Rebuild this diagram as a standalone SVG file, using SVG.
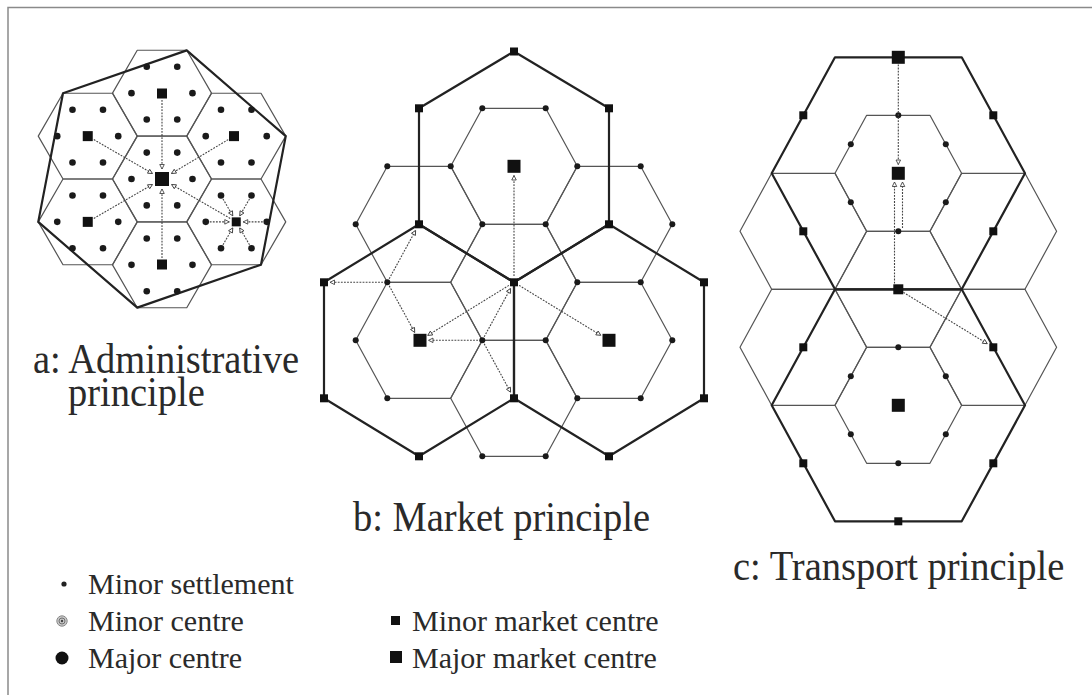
<svg xmlns="http://www.w3.org/2000/svg" xmlns:xlink="http://www.w3.org/1999/xlink" width="1092" height="695" viewBox="0 0 1092 695">
<style>
.thin{fill:none;stroke:#555;stroke-width:1.2;stroke-linejoin:round}
.heavy{fill:none;stroke:#222;stroke-width:2.2;stroke-linejoin:round}
.dot{fill:#1a1a1a}
.sq{fill:#111}
.arr{fill:none;stroke:#444;stroke-width:1.1;stroke-dasharray:1.8 1.3;marker-end:url(#ah)}
.title{font-family:"Liberation Serif","Times New Roman",serif;font-size:38.5px;fill:#2a2a2a}
.leg{font-family:"Liberation Serif","Times New Roman",serif;font-size:30px;fill:#2a2a2a}
</style>
<defs>
<marker id="ah" viewBox="0 0 8 8" refX="7" refY="4" markerWidth="6" markerHeight="6" orient="auto" markerUnits="userSpaceOnUse">
<path d="M1,1 L7,4 L1,7 z" fill="#fff" stroke="#333" stroke-width="1.1" stroke-dasharray="none"/>
</marker>
<polygon id="hexA" points="-49.5,0 -24.75,-42.87 24.75,-42.87 49.5,0 24.75,42.87 -24.75,42.87"/>
<polygon id="hexB" points="-63.3,0 -31.65,-58 31.65,-58 63.3,0 31.65,58 -31.65,58"/>
<g id="dotsA">
<circle cx="30.5" cy="0" r="3.3"/><circle cx="-30.5" cy="0" r="3.3"/>
<circle cx="15.25" cy="-26.41" r="3.3"/><circle cx="-15.25" cy="-26.41" r="3.3"/>
<circle cx="15.25" cy="26.41" r="3.3"/><circle cx="-15.25" cy="26.41" r="3.3"/>
</g>
<g id="midC">
<circle cx="0" cy="-58" r="3"/><circle cx="0" cy="58" r="3"/>
<circle cx="47.5" cy="-29" r="3"/><circle cx="-47.5" cy="-29" r="3"/>
<circle cx="47.5" cy="29" r="3"/><circle cx="-47.5" cy="29" r="3"/>
</g>
<rect id="sqS" x="-4" y="-4" width="8" height="8"/>
<rect id="sqM" x="-5" y="-5" width="10" height="10"/>
<rect id="sqL" x="-6.5" y="-6.5" width="13" height="13"/>
<rect id="sqXL" x="-7" y="-7" width="14" height="14"/>
</defs>
<rect width="1092" height="695" fill="#fff"/>
<path d="M8,695 L8,7.5 L1092,7.5" fill="none" stroke="#8a8a8a" stroke-width="1.5"/>

<!-- Panel a: Administrative principle -->
<g id="panel-a">
<g id="a-hexes" class="thin">
<use href="#hexA" x="162" y="179"/>
<use href="#hexA" x="162" y="93.13"/>
<use href="#hexA" x="162" y="264.87"/>
<use href="#hexA" x="87.75" y="136.13"/>
<use href="#hexA" x="236.25" y="136.13"/>
<use href="#hexA" x="87.75" y="221.87"/>
<use href="#hexA" x="236.25" y="221.87"/>
</g>
<polygon id="a-boundary" class="heavy" points="186.75,50.4 285.75,136.1 261,264.7 137.25,307.6 38.25,221.9 63,93.3"/>
<g id="a-dots" class="dot">
<use href="#dotsA" x="162" y="179"/>
<use href="#dotsA" x="162" y="93.13"/>
<use href="#dotsA" x="162" y="264.87"/>
<use href="#dotsA" x="87.75" y="136.13"/>
<use href="#dotsA" x="236.25" y="136.13"/>
<use href="#dotsA" x="87.75" y="221.87"/>
<use href="#dotsA" x="236.25" y="221.87"/>
</g>
<g id="a-centres" class="sq">
<use href="#sqXL" x="162" y="179"/>
<use href="#sqM" x="162" y="93.5"/>
<use href="#sqM" x="162" y="264.5"/>
<use href="#sqM" x="87.75" y="136.13"/>
<use href="#sqM" x="234" y="136.13"/>
<use href="#sqM" x="87.75" y="221.87"/>
<rect x="231.75" y="217.37" width="9" height="9"/>
</g>
<g id="a-connectors">
<line class="arr" x1="162" y1="100" x2="162" y2="169"/>
<line class="arr" x1="93.8" y1="139.6" x2="152.5" y2="173.5"/>
<line class="arr" x1="228.2" y1="139.6" x2="171.5" y2="173.5"/>
<line class="arr" x1="93.8" y1="218.4" x2="152.5" y2="184.5"/>
<line class="arr" x1="162" y1="258" x2="162" y2="189"/>
<line class="arr" x1="230.2" y1="218.4" x2="171.5" y2="184.5"/>
<line class="arr" x1="262.75" y1="221.87" x2="243.25" y2="221.87"/>
<line class="arr" x1="249.5" y1="244.8" x2="239.75" y2="227.93"/>
<line class="arr" x1="223" y1="244.8" x2="232.75" y2="227.93"/>
<line class="arr" x1="209.75" y1="221.87" x2="229.25" y2="221.87"/>
<line class="arr" x1="223" y1="198.9" x2="232.75" y2="215.8"/>
<line class="arr" x1="249.5" y1="198.9" x2="239.75" y2="215.8"/>
</g>
<text class="title" transform="translate(0,373) scale(1,1.08)"><tspan x="33" y="0">a: Administrative</tspan><tspan x="68" y="30.5">principle</tspan></text>
</g>

<!-- Panel b: Market principle -->
<g id="panel-b">
<g id="b-hexes" class="thin">
<use href="#hexB" x="514" y="166.3"/>
<use href="#hexB" x="419" y="224.3"/>
<use href="#hexB" x="609" y="224.3"/>
<use href="#hexB" x="514" y="282.3"/>
<use href="#hexB" x="419" y="340.3"/>
<use href="#hexB" x="609" y="340.3"/>
<use href="#hexB" x="514" y="398.3"/>
</g>
<g id="b-areas" class="heavy">
<polygon points="514,51.5 609,108.3 609,224.3 514,282.3 419,224.3 419,108.3"/>
<polygon points="419,224.3 514,282.3 514,398.3 419,456.3 324,398.3 324,282.3"/>
<polygon points="609,224.3 704,282.3 704,398.3 609,456.3 514,398.3 514,282.3"/>
</g>
<g id="b-dots" class="dot">
<circle cx="482.3" cy="108.3" r="3"/><circle cx="545.7" cy="108.3" r="3"/>
<circle cx="577.3" cy="166.3" r="3"/><circle cx="545.7" cy="224.3" r="3"/>
<circle cx="482.3" cy="224.3" r="3"/><circle cx="450.7" cy="166.3" r="3"/>
<circle cx="387.3" cy="166.3" r="3"/><circle cx="387.3" cy="282.3" r="3"/>
<circle cx="355.7" cy="224.3" r="3"/><circle cx="640.7" cy="166.3" r="3"/>
<circle cx="672.3" cy="224.3" r="3"/><circle cx="640.7" cy="282.3" r="3"/>
<circle cx="577.3" cy="282.3" r="3"/><circle cx="545.7" cy="340.3" r="3"/>
<circle cx="482.3" cy="340.3" r="3"/><circle cx="387.3" cy="398.3" r="3"/>
<circle cx="355.7" cy="340.3" r="3"/><circle cx="672.3" cy="340.3" r="3"/>
<circle cx="640.7" cy="398.3" r="3"/><circle cx="577.3" cy="398.3" r="3"/>
<circle cx="545.7" cy="456.3" r="3"/><circle cx="482.3" cy="456.3" r="3"/>
</g>
<g id="b-centres" class="sq">
<use href="#sqS" x="514" y="51.5"/>
<use href="#sqS" x="609" y="108.3"/>
<use href="#sqS" x="609" y="224.3"/>
<use href="#sqS" x="514" y="282.3"/>
<use href="#sqS" x="419" y="224.3"/>
<use href="#sqS" x="419" y="108.3"/>
<use href="#sqS" x="704" y="282.3"/>
<use href="#sqS" x="704" y="398.3"/>
<use href="#sqS" x="609" y="456.3"/>
<use href="#sqS" x="514" y="398.3"/>
<use href="#sqS" x="419" y="456.3"/>
<use href="#sqS" x="324" y="398.3"/>
<use href="#sqS" x="324" y="282.3"/>
<use href="#sqL" x="514" y="166.3"/>
<use href="#sqL" x="420" y="340.3"/>
<use href="#sqL" x="609" y="340.3"/>
</g>
<g id="b-connectors">
<line class="arr" x1="514" y1="276" x2="514" y2="175.5"/>
<line class="arr" x1="383" y1="282.3" x2="330" y2="282.3"/>
<line class="arr" x1="389.2" y1="278.8" x2="415.6" y2="230.4"/>
<line class="arr" x1="389.2" y1="285.8" x2="414.7" y2="332.4"/>
<line class="arr" x1="508.9" y1="285.4" x2="427.7" y2="335.4"/>
<line class="arr" x1="478" y1="340.3" x2="428.5" y2="340.3"/>
<line class="arr" x1="484.2" y1="336.8" x2="510.6" y2="288.4"/>
<line class="arr" x1="484.2" y1="343.8" x2="510.6" y2="392.2"/>
<line class="arr" x1="519.1" y1="285.4" x2="600.8" y2="335.3"/>
</g>
<text class="title" transform="translate(353,531) scale(1,1.08)">b: Market principle</text>
</g>

<!-- Panel c: Transport principle -->
<g id="panel-c">
<g id="c-hexes" class="thin">
<use href="#hexB" x="898.3" y="289.3"/>
<use href="#hexB" x="898.3" y="173.3"/>
<use href="#hexB" x="898.3" y="405.3"/>
<use href="#hexB" x="803.3" y="231.3"/>
<use href="#hexB" x="803.3" y="347.3"/>
<use href="#hexB" x="993.3" y="231.3"/>
<use href="#hexB" x="993.3" y="347.3"/>
</g>
<g id="c-areas" class="heavy">
<polygon points="835,57.3 961.7,57.3 1025,173.3 961.7,289.3 835,289.3 771.7,173.3"/>
<polygon points="835,289.3 961.7,289.3 1025,405.3 961.7,521.3 835,521.3 771.7,405.3"/>
</g>
<g id="c-dots" class="dot">
<use href="#midC" x="898.3" y="173.3"/>
<use href="#midC" x="898.3" y="405.3"/>
</g>
<g id="c-centres" class="sq">
<use href="#sqL" x="898.3" y="57.3"/>
<use href="#sqS" x="803.3" y="115.3"/>
<use href="#sqS" x="993.3" y="115.3"/>
<use href="#sqS" x="803.3" y="231.3"/>
<use href="#sqS" x="993.3" y="231.3"/>
<use href="#sqM" x="898.3" y="289.3"/>
<use href="#sqS" x="803.3" y="347.3"/>
<use href="#sqS" x="993.3" y="347.3"/>
<use href="#sqS" x="803.3" y="463.3"/>
<use href="#sqS" x="993.3" y="463.3"/>
<use href="#sqS" x="898.3" y="521.3"/>
<use href="#sqL" x="898.3" y="173.3"/>
<use href="#sqL" x="898.3" y="405.3"/>
</g>
<g id="c-connectors">
<line class="arr" x1="898.3" y1="64.5" x2="898.3" y2="164.5"/>
<line class="arr" x1="894.5" y1="283.5" x2="894.5" y2="182"/>
<line class="arr" x1="902.5" y1="228" x2="902.5" y2="182"/>
<line class="arr" x1="903.4" y1="292.4" x2="987.3" y2="343.7"/>
</g>
<text class="title" transform="translate(733,580) scale(1,1.08)">c: Transport principle</text>
</g>

<!-- Legend -->
<g id="legend">
<g id="leg-minor-settlement">
<circle cx="64" cy="584" r="2.6" fill="#222"/>
<text class="leg" x="88" y="594">Minor settlement</text>
</g>
<g id="leg-minor-centre">
<circle cx="62" cy="621" r="5.2" fill="#c8c8c8" stroke="#8a8a8a" stroke-width="1"/>
<circle cx="62" cy="621" r="3" fill="none" stroke="#666" stroke-width="0.9"/>
<circle cx="62" cy="621" r="1.2" fill="#444"/>
<text class="leg" x="88" y="631">Minor centre</text>
</g>
<g id="leg-major-centre">
<circle cx="62" cy="658" r="6.5" fill="#111"/>
<text class="leg" x="88" y="668">Major centre</text>
</g>
<g id="leg-minor-market">
<rect x="391" y="616" width="9" height="9" fill="#111"/>
<text class="leg" x="412" y="631">Minor market centre</text>
</g>
<g id="leg-major-market">
<rect x="390" y="651" width="12" height="12" fill="#111"/>
<text class="leg" x="412" y="668">Major market centre</text>
</g>
</g>
</svg>
